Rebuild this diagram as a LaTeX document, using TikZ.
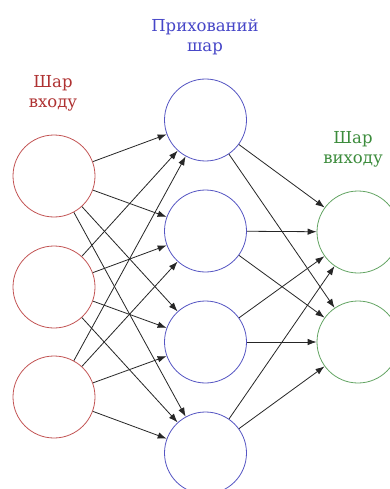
\documentclass[tikz,border=0pt]{standalone}
\usepackage{fontspec}
\setmainfont{DejaVu Serif}
\usetikzlibrary{arrows.meta}
\definecolor{incol}{RGB}{195,85,85}
\definecolor{hidcol}{RGB}{85,85,195}
\definecolor{outcol}{RGB}{100,165,100}
\definecolor{intext}{RGB}{175,50,50}
\definecolor{hidtext}{RGB}{70,70,200}
\definecolor{outtext}{RGB}{60,140,60}
\begin{document}
\begin{tikzpicture}[x=1pt,y=-1pt,
  neuron/.style={circle,draw,minimum size=82pt,inner sep=0pt,line width=0.8pt},
  conn/.style={-{Latex[length=9pt,width=6.5pt]},line width=0.8pt,draw=black!85},
  lbl/.style={font=\fontsize{16.5}{20}\selectfont,align=center,anchor=base,inner sep=0pt}]
\useasboundingbox (0,0) rectangle (389,489);
\fill[white] (0,0) rectangle (389,489);
\node[neuron,draw=incol] (i1) at (54,176) {};
\node[neuron,draw=incol] (i2) at (54,287) {};
\node[neuron,draw=incol] (i3) at (54,397) {};
\node[neuron,draw=hidcol] (h1) at (205.5,120) {};
\node[neuron,draw=hidcol] (h2) at (205.5,231) {};
\node[neuron,draw=hidcol] (h3) at (205.5,342) {};
\node[neuron,draw=hidcol] (h4) at (205.5,453) {};
\node[neuron,draw=outcol] (o1) at (358,232) {};
\node[neuron,draw=outcol] (o2) at (358,342) {};
\node[lbl,text=intext] (li) at (53,108) {Шар\\входу};
\node[lbl,text=hidtext] (lh) at (205,52) {Прихований\\шар};
\node[lbl,text=outtext] (lo) at (353,163) {Шар\\виходу};
\foreach \i in {1,2,3}{
  \foreach \h in {1,2,3,4}{
    \draw[conn] (i\i) -- (h\h);
  }
}
\foreach \h in {1,2,3,4}{
  \foreach \o in {1,2}{
    \draw[conn] (h\h) -- (o\o);
  }
}
\end{tikzpicture}
\end{document}
